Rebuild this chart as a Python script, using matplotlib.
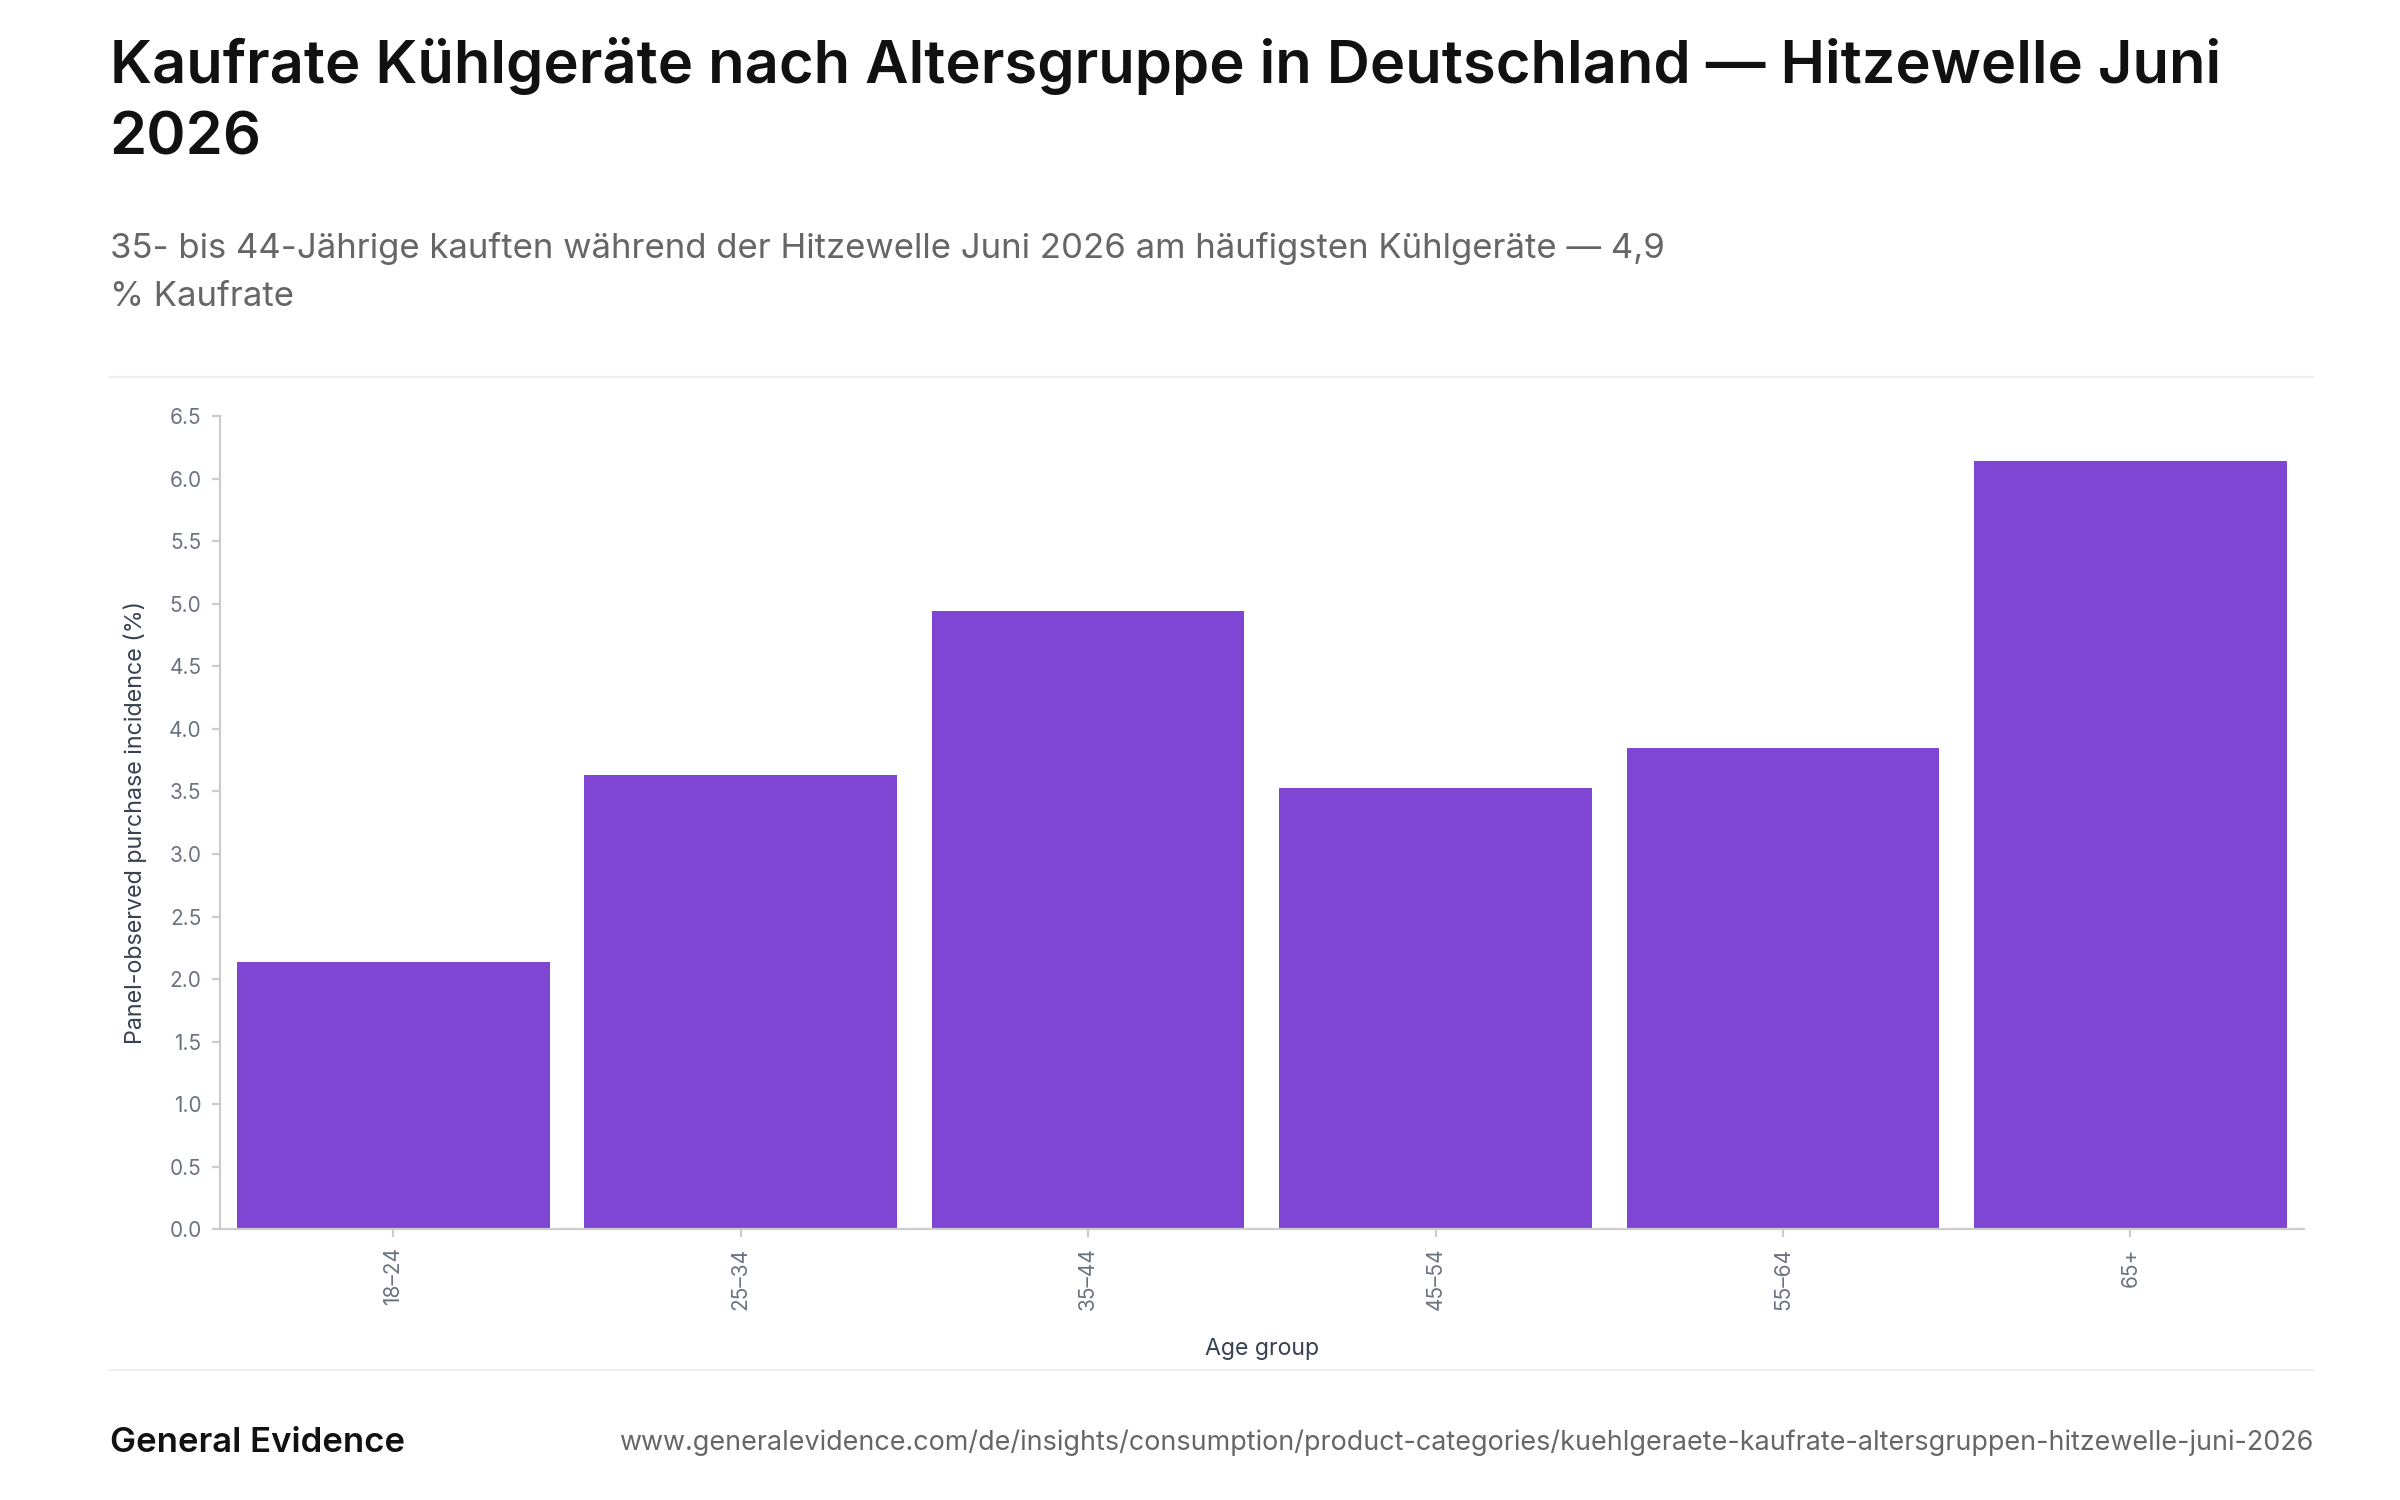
import matplotlib.pyplot as plt
import numpy as np

plt.rcParams['font.family'] = ['Inter', 'DejaVu Sans']

# data
age_groups = ["18–24", "25–34", "35–44", "45–54", "55–64", "65+"]
incidence = [2.14, 3.63, 4.94, 3.53, 3.85, 6.14]
yticks = [0.0, 0.5, 1.0, 1.5, 2.0, 2.5, 3.0, 3.5, 4.0, 4.5, 5.0, 5.5, 6.0, 6.5]

title = "Kaufrate Kühlgeräte nach Altersgruppe in Deutschland — Hitzewelle Juni\n2026"
subtitle = "35- bis 44-Jährige kauften während der Hitzewelle Juni 2026 am häufigsten Kühlgeräte — 4,9\n% Kaufrate"
brand = "General Evidence"
url = "www.generalevidence.com/de/insights/consumption/product-categories/kuehlgeraete-kaufrate-altersgruppen-hitzewelle-juni-2026"

W, H = 1552, 970  # layout measured on the reference preview

fig = plt.figure(figsize=(12, 7.5), dpi=200)
fig.patch.set_facecolor("white")

ax = fig.add_axes([142 / W, 1 - 795 / H, (1490 - 142) / W, (795 - 269) / H])
x = np.arange(len(age_groups))
ax.bar(x, incidence, width=0.9, color="#7F45D3")
ax.set_xlim(-0.5, len(age_groups) - 0.5)
ax.set_ylim(0, 6.5)
ax.set_yticks(yticks)
ax.set_yticklabels([f"{v:.1f}" for v in yticks])
ax.set_xticks(x)
ax.set_xticklabels(age_groups, rotation=90)

for s in ["top", "right"]:
    ax.spines[s].set_visible(False)
for s in ["left", "bottom"]:
    ax.spines[s].set_color("#cccccc")
    ax.spines[s].set_linewidth(0.8)
ax.tick_params(axis="both", colors="#cccccc", labelcolor="#6b7280", labelsize=7.5, length=3, width=0.8)

ax.set_ylabel("Panel-observed purchase incidence (%)", fontsize=8.4, color="#374151", labelpad=8)
ax.set_xlabel("Age group", fontsize=8.3, color="#374151", labelpad=10)

# header
fig.text(71 / W, 1 - 24 / H, title, fontsize=21.5, fontweight="semibold", color="#111111",
         va="top", ha="left", linespacing=1.38)
fig.text(71 / W, 1 - 150 / H, subtitle, fontsize=12.5, color="#666666",
         va="top", ha="left", linespacing=1.65)

# separators
fig.add_artist(plt.Line2D([71 / W, 1496 / W], [1 - 244 / H, 1 - 244 / H], color="#eeeeee", lw=0.8))
fig.add_artist(plt.Line2D([71 / W, 1496 / W], [1 - 886 / H, 1 - 886 / H], color="#eeeeee", lw=0.8))

# footer
fig.text(71 / W, 1 - 933 / H, brand, fontsize=12.5, fontweight="semibold", color="#111111",
         va="center", ha="left")
fig.text(1496 / W, 1 - 933 / H, url, fontsize=9.7, color="#666666", va="center", ha="right")

fig.savefig("out.png", dpi=200, facecolor="white")
